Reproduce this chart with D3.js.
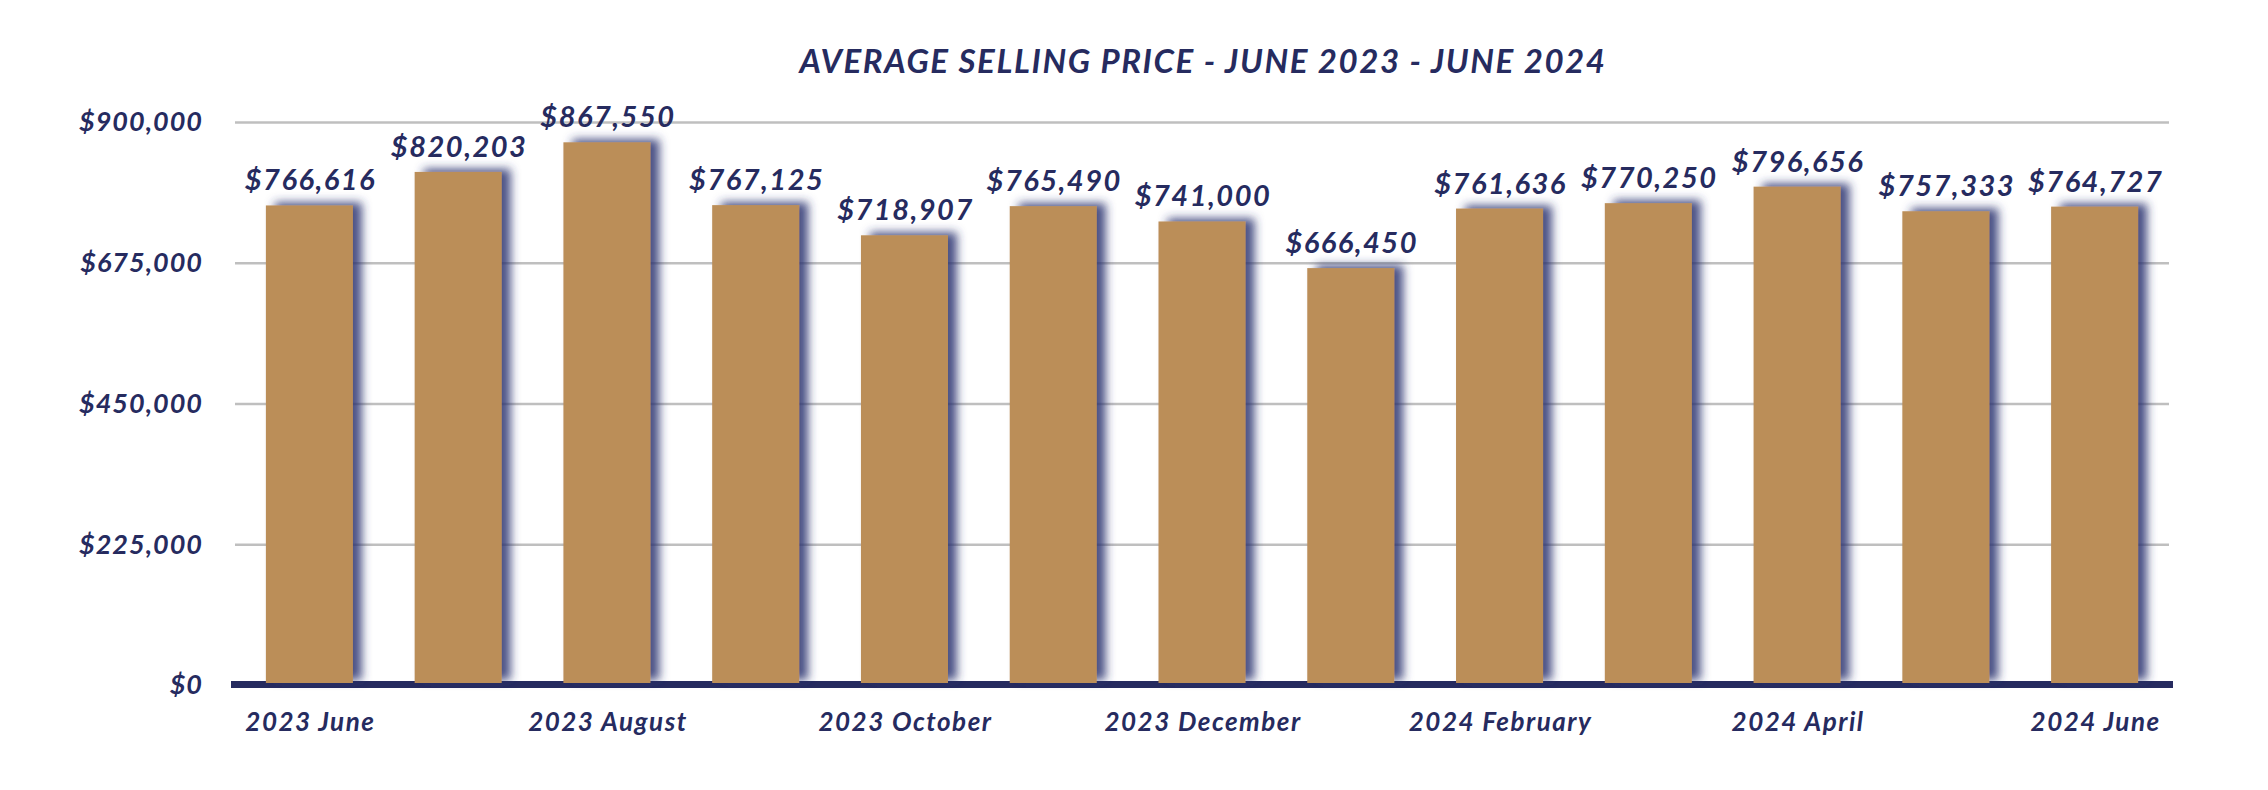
<!DOCTYPE html>
<html>
<head>
<meta charset="utf-8">
<script src="https://cdn.jsdelivr.net/npm/d3@7"></script>
<style>
  body { margin: 0; background: #fff; }
  svg text { font-family: Lato, 'Open Sans', sans-serif; font-style: italic; font-weight: 700; fill: #262b5f; }
  .grid line { stroke: #bfbfbf; stroke-width: 2.5; }
  .grid .domain { display: none; }
</style>
</head>
<body>
<svg id="chart" width="2268" height="790"></svg>
<script>
const months = ['2023 June', '2023 July', '2023 August', '2023 September', '2023 October', '2023 November',
  '2023 December', '2024 January', '2024 February', '2024 March', '2024 April', '2024 May', '2024 June']
const prices = [766616, 820203, 867550, 767125, 718907, 765490, 741000, 666450, 761636, 770250, 796656, 757333, 764727]
const yTicks = [0, 225000, 450000, 675000, 900000]
const xTickLabels = ['2023 June', '2023 August', '2023 October', '2023 December', '2024 February', '2024 April', '2024 June']
const title = 'AVERAGE SELLING PRICE - JUNE 2023 - JUNE 2024'

const margin = { top: 122, left: 235, bottom: 105, right: 99 }
const svg = d3.select('#chart')
const width = +svg.attr('width') - margin.left - margin.right
const height = +svg.attr('height') - margin.top - margin.bottom

const x = d3.scaleBand().domain(months).range([0, width]).paddingInner(0.415).paddingOuter(0.2075)
const y = d3.scaleLinear().domain([0, 900000]).range([height, 0])
const money = d3.format('$,')

const defs = svg.append('defs')
const shadow = defs.append('filter').attr('id', 'shadow')
  .attr('x', '-30%').attr('y', '-10%').attr('width', '160%').attr('height', '120%')
shadow.append('feDropShadow')
  .attr('dx', 9).attr('dy', -3).attr('stdDeviation', 5)
  .attr('flood-color', '#2b3070').attr('flood-opacity', 0.85)

svg.append('text')
  .attr('x', 1203).attr('y', 73)
  .attr('text-anchor', 'middle')
  .style('font-size', '33px')
  .style('letter-spacing', '1.6px')
  .text(title)

const g = svg.append('g').attr('transform', `translate(${margin.left},${margin.top})`)

// gridlines
g.append('g').classed('grid', true)
  .call(d3.axisLeft(y).tickValues(yTicks.filter(d => d > 0)).tickSize(-width).tickFormat(''))

// y labels
g.selectAll('.ylab').data(yTicks).join('text')
  .classed('ylab', true)
  .attr('x', -32).attr('y', d => y(d))
  .attr('dy', '0.35em')
  .attr('text-anchor', 'end')
  .style('font-size', '27px')
  .style('letter-spacing', '1px')
  .text(d => money(d))

// baseline
g.append('line')
  .attr('x1', -4).attr('x2', width + 4)
  .attr('y1', y(0) - 0.5).attr('y2', y(0) - 0.5)
  .attr('stroke', '#262b5f').attr('stroke-width', 7)

// bars
g.selectAll('.bar').data(prices).join('rect')
  .classed('bar', true)
  .attr('x', (d, i) => x(months[i]))
  .attr('width', x.bandwidth())
  .attr('y', d => y(d))
  .attr('height', d => y(0) - 2 - y(d))
  .attr('fill', '#bb8e59')
  .attr('filter', 'url(#shadow)')

// value labels
g.selectAll('.val').data(prices).join('text')
  .classed('val', true)
  .attr('x', (d, i) => x(months[i]) + x.bandwidth() / 2 + 1)
  .attr('y', d => y(d) - 15)
  .attr('text-anchor', 'middle')
  .style('font-size', '29px')
  .style('letter-spacing', '1.5px')
  .text(d => money(d))

// x labels
g.selectAll('.xlab').data(xTickLabels).join('text')
  .classed('xlab', true)
  .attr('x', d => x(d) + x.bandwidth() / 2 + 1)
  .attr('y', height + 46)
  .attr('text-anchor', 'middle')
  .style('font-size', '26px')
  .style('letter-spacing', '1.5px')
  .text(d => d)
</script>
</body>
</html>
